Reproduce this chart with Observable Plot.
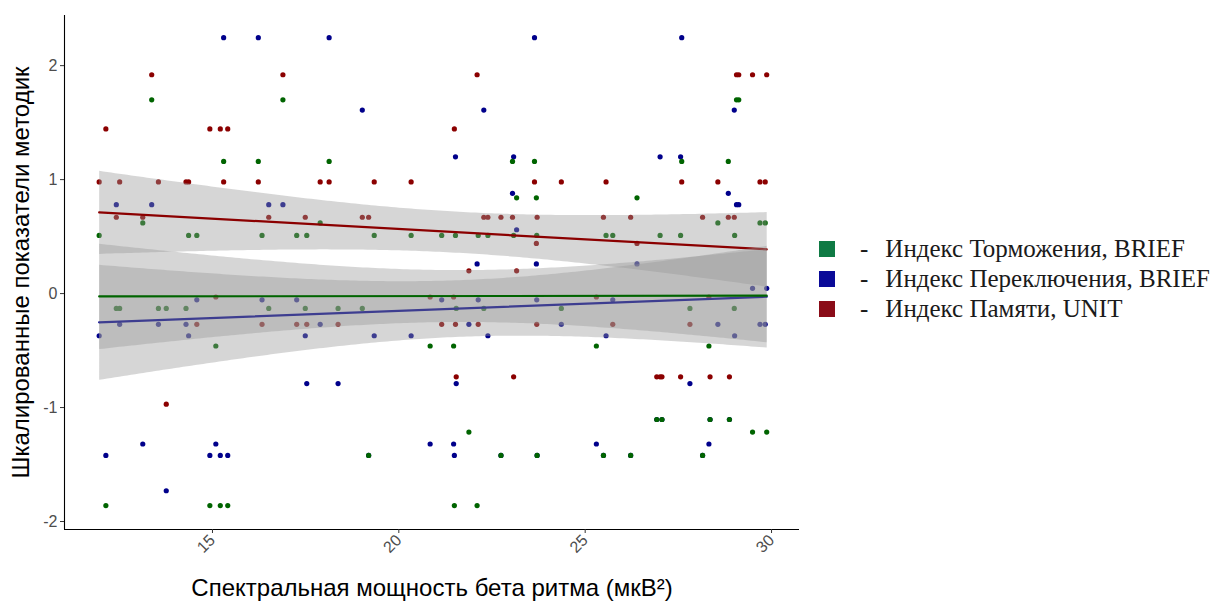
<!DOCTYPE html>
<html><head><meta charset="utf-8">
<script src="https://cdn.jsdelivr.net/npm/d3@7"></script>
<script src="https://cdn.jsdelivr.net/npm/@observablehq/plot@0.6"></script>
<style>
html,body{margin:0;padding:0;background:#fff;}
#wrap{position:relative;width:1221px;height:607px;overflow:hidden;}
#legend{position:absolute;left:819px;top:234px;font-family:"Liberation Serif","Times New Roman",serif;font-size:25px;color:#1a1a1a;}
.row{display:flex;align-items:center;height:30px;}
.sw{width:16px;height:16px;margin-right:25px;flex:none;}
.dash{margin-right:17px;}
</style></head><body>
<div id="wrap"><div id="chart"></div><div id="legend"></div></div>
<script>
// Spectral beta power (x) per subject
const subjX = [11.96,12.14,12.42,12.51,13.13,13.37,13.55,13.76,14.29,14.36,14.58,14.93,15.09,15.21,15.30,15.41,16.23,16.33,16.51,16.89,17.26,17.49,17.53,17.89,18.13,18.37,19.02,19.19,19.34,20.33,20.84,21.15,21.47,21.49,21.52,21.54,21.88,22.10,22.13,22.28,22.39,22.74,23.05,23.08,23.16,23.64,23.69,23.70,23.71,24.36,25.30,25.49,25.56,25.74,26.22,26.39,26.92,27.01,27.06,27.56,27.59,27.81,28.15,28.32,28.35,28.56,28.84,28.87,29.00,29.01,29.06,29.12,29.49,29.69,29.83,29.87];
// Inhibition index, BRIEF (green)
const inhibition = [0.51,-1.86,-0.13,-0.13,0.62,1.70,-0.13,-0.13,-0.13,0.51,0.51,-1.86,-0.46,-1.86,1.16,-1.86,1.16,0.51,-0.13,1.70,0.51,-0.13,0.51,0.62,1.16,-0.13,-0.13,-1.42,0.51,0.51,-0.46,0.51,-0.46,-1.86,0.51,-0.13,-1.215,-1.86,0.51,-0.13,0.51,-1.42,1.16,0.51,0.84,1.16,0.84,0.51,-1.42,-0.13,-0.46,-1.42,0.51,0.51,-1.42,0.84,-1.105,0.51,-1.105,0.51,1.16,-0.13,-1.42,-0.46,-1.105,0.62,1.16,-1.105,-0.13,0.51,1.70,1.70,-1.215,0.62,0.62,-1.215];
// Switching index, BRIEF (blue); some points hidden under green ones
const switching = [-0.37,-1.42,0.78,-0.27,-1.32,0.78,-0.27,-1.73,-0.27,-0.37,-0.055,-1.42,-1.32,-1.42,2.245,-1.42,2.245,-0.055,0.78,0.78,-0.055,-0.37,-0.79,-0.27,2.245,-0.79,1.61,-1.42,-0.37,-0.37,-1.32,-0.055,-1.32,-1.42,1.2,-0.79,-0.27,0.26,-0.055,1.61,-0.37,-1.42,0.88,1.2,0.56,2.245,0.26,-0.055,-1.42,-0.27,-1.32,-1.42,-0.37,-0.055,-1.42,0.26,-1.105,1.2,-1.105,1.2,2.245,-0.79,-1.42,-1.32,-1.105,-0.27,0.88,-1.105,1.61,-0.37,0.78,0.78,0.046,-0.27,-0.27,0.046];
// Memory index, UNIT (red)
const memory = [0.98,1.445,0.67,0.98,0.67,1.92,0.98,-0.97,0.98,0.98,-0.27,1.445,-0.03,1.445,0.98,1.445,0.98,-0.27,0.67,1.92,-0.27,0.67,-0.27,0.98,0.98,-0.27,0.67,0.67,0.98,0.98,-0.03,-0.27,-0.03,1.445,-0.27,-0.73,0.20,1.92,-0.27,0.67,0.67,0.67,0.67,-0.73,0.20,0.98,0.44,-0.27,0.67,0.98,-0.03,0.67,0.98,-0.27,0.67,0.44,-0.73,-0.73,-0.73,-0.73,0.98,-0.27,0.67,-0.03,-0.73,0.98,0.67,-0.73,0.67,null,1.92,1.92,1.92,0.98,0.98,1.92];

const seriesNames = ["Индекс Торможения, BRIEF", "Индекс Переключения, BRIEF", "Индекс Памяти, UNIT"];
const pointColors = ["#006400", "#00008B", "#8B0000"];
const legendColors = ["#0f7a44", "#0a0a98", "#8a0c18"];
const xTicks = [15, 20, 25, 30];
const yTicks = [-2, -1, 0, 1, 2];
const xDomain = [11.03, 30.75];
const yDomain = [-2.07, 2.44];
const xTitle = "Спектральная мощность бета ритма (мкВ²)";
const yTitle = "Шкалированные показатели методик";

const table = ys => subjX.map((x, i) => ({x, y: ys[i]})).filter(d => d.y != null);
const gData = table(inhibition), bData = table(switching), rData = table(memory);

const W = 812;
const band = {fill: "#999999", fillOpacity: 0.4, strokeWidth: 2.2};
const chart = Plot.plot({
  width: W, height: 607,
  marginLeft: 64, marginRight: W - 799, marginTop: 15, marginBottom: 78,
  x: {domain: xDomain},
  y: {domain: yDomain},
  style: {fontFamily: "'Liberation Sans', Arial, sans-serif", background: "white", overflow: "visible"},
  marks: [
    Plot.dot(bData, {x: "x", y: "y", r: 2.6, fill: pointColors[1], stroke: "none"}),
    Plot.dot(rData, {x: "x", y: "y", r: 2.6, fill: pointColors[2], stroke: "none"}),
    Plot.dot(gData, {x: "x", y: "y", r: 2.6, fill: pointColors[0], stroke: "none"}),
    Plot.linearRegressionY(rData, {x: "x", y: "y", stroke: pointColors[2], ...band}),
    Plot.linearRegressionY(bData, {x: "x", y: "y", stroke: pointColors[1], ...band}),
    Plot.linearRegressionY(gData, {x: "x", y: "y", stroke: pointColors[0], ...band}),
    Plot.ruleX([xDomain[0]], {stroke: "#000", strokeWidth: 1.1}),
    Plot.ruleY([yDomain[0]], {stroke: "#000", strokeWidth: 1.1}),
    Plot.axisX({ticks: xTicks, tickSize: 4, tickPadding: 4, tickRotate: -45, tickFormat: d => String(d), label: null, stroke: "#333", fill: "#4d4d4d", fontSize: 16}),
    Plot.axisY({ticks: yTicks, tickSize: 4, tickPadding: 3, tickFormat: d => String(d), label: null, stroke: "#333", fill: "#4d4d4d", fontSize: 16}),
    Plot.text([yTitle], {frameAnchor: "left", textAnchor: "middle", rotate: -90, dx: -43, fontSize: 24, fill: "#000"}),
    Plot.text([xTitle], {frameAnchor: "bottom", textAnchor: "middle", dy: 66, fontSize: 24, fill: "#000"})
  ]
});
document.getElementById("chart").appendChild(chart);

const legend = d3.select("#legend");
seriesNames.forEach((name, i) => {
  const row = legend.append("div").attr("class", "row");
  row.append("div").attr("class", "sw").style("background", legendColors[i]);
  row.append("span").attr("class", "dash").text("-");
  row.append("span").text(name);
});
</script>
</body></html>
